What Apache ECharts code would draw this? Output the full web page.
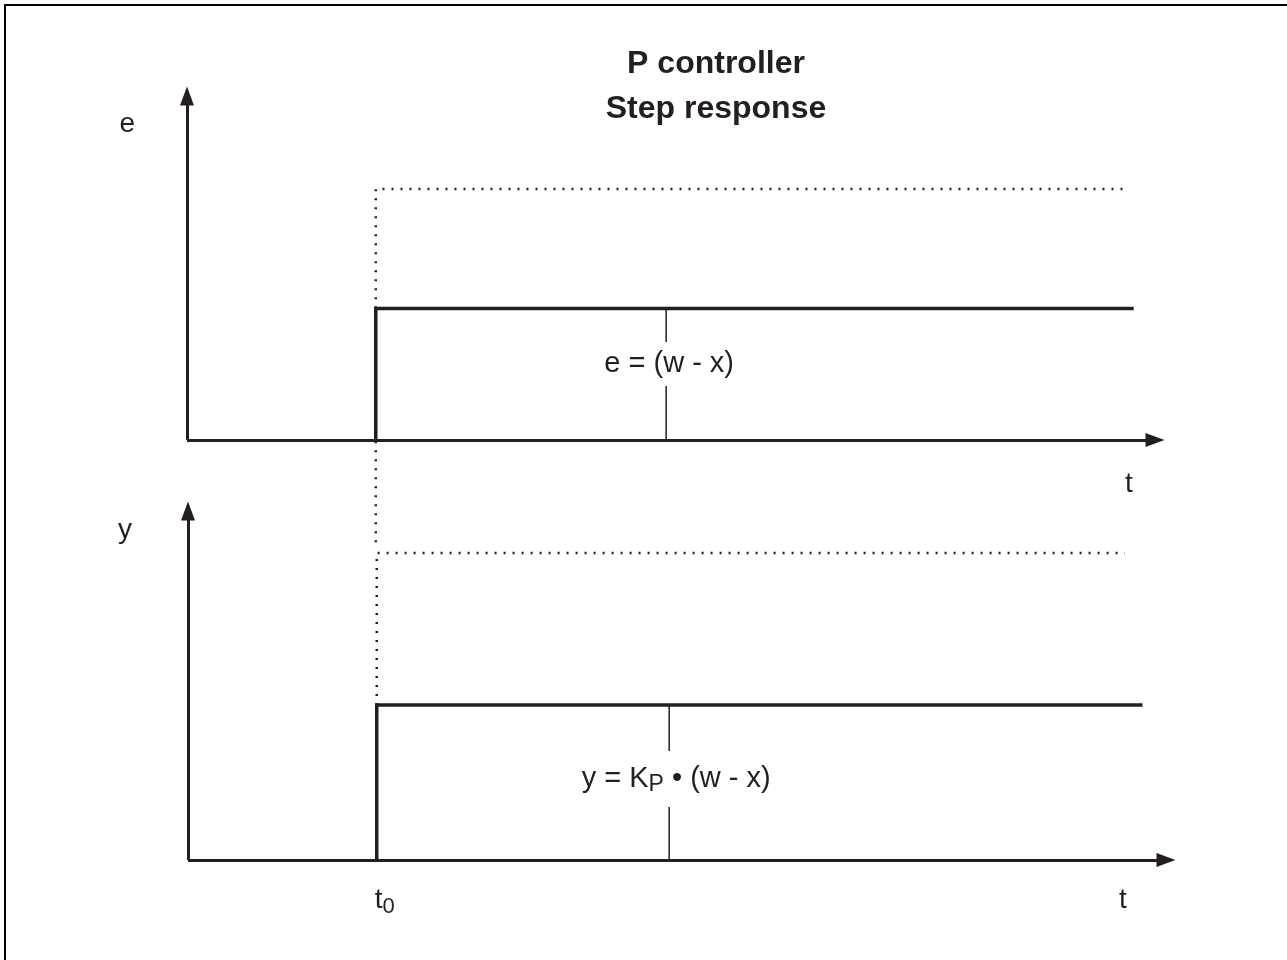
<!DOCTYPE html>
<html>
<head>
<meta charset="utf-8">
<title>P controller - Step response</title>
<script src="https://cdn.jsdelivr.net/npm/echarts@6.0.0/dist/echarts.min.js"></script>
<style>
  html, body { margin: 0; padding: 0; background: #fff; overflow: hidden; }
  #chart { position: absolute; left: 0; top: 0; width: 1287px; height: 960px; }
  #frame { position: absolute; left: 4px; top: 4px; width: 1283px; height: 956px;
           border-left: 2px solid #000; border-top: 2px solid #000; box-sizing: border-box; pointer-events: none; }
</style>
</head>
<body>
<div id="chart"></div>
<div id="frame"></div>
<script>
// upper panel: control error e over time t
const errStepT = [19.5, 19.5, 97.8];
const errStepE = [0, 3.82, 3.82];
const errRefT = [19.5, 19.5, 96.8];
const errRefE = [-2.97, 7.3, 7.3];
const errMarkT = [49.5, 49.5];
const errMarkE = [3.82, 0];

// lower panel: controller output y over time t
const outStepT = [19.3, 19.3, 97.6];
const outStepY = [0, 4.44, 4.44];
const outRefT = [19.3, 19.3, 95.8];
const outRefY = [4.44, 8.8, 8.8];
const outMarkT = [49.2, 49.2];
const outMarkY = [4.44, 0];

// where the time labels sit on the t axes
const t0 = 19.3;
const errTimeLabelT = [97.3];
const outTimeLabelT = [t0, 95.6];

const errText = 'e = (w - x)';
const outText = '{a|y = K}{s|P}{a| \u2022 (w - x)}';

const ink = '#231f20';
const font = '"Liberation Sans", Arial, Helvetica, sans-serif';

const zip = (xs, ys) => xs.map((x, i) => [x, ys[i]]);

function arrowLine() {
  return {
    show: true,
    symbol: ['none', 'triangle'],
    symbolSize: [14, 19],
    lineStyle: { color: ink, width: 3, cap: 'butt' }
  };
}

const timeRich = {
  t: { fontFamily: font, fontSize: 28, color: ink, lineHeight: 40 },
  t0: { fontFamily: font, fontSize: 28, color: ink, lineHeight: 40, padding: [0, 0, 0, 16] },
  s: { fontFamily: font, fontSize: 22, color: ink, lineHeight: 40, padding: [14, 0, 0, 0] }
};

function nameStyle(extra) {
  return Object.assign({ fontFamily: font, fontSize: 28, color: ink }, extra);
}

function lineSeries(grid, data, width, dash, z) {
  return {
    type: 'line',
    xAxisIndex: grid,
    yAxisIndex: grid,
    data: data,
    symbol: 'none',
    clip: false,
    silent: true,
    z: z,
    lineStyle: { color: ink, width: width, type: dash, cap: 'butt', join: 'miter' }
  };
}

const chart = echarts.init(document.getElementById('chart'), null, { renderer: 'canvas' });

chart.setOption({
  animation: false,
  backgroundColor: '#fff',
  title: {
    text: 'P controller\nStep response',
    left: 716,
    top: 42,
    textAlign: 'center',
    padding: 0,
    textStyle: { fontFamily: font, fontSize: 32, fontWeight: 'bold', color: ink, lineHeight: 45 }
  },
  grid: [
    { left: 187, top: 96, width: 968, height: 344, containLabel: false, outerBoundsMode: 'none' },
    { left: 188, top: 511, width: 978, height: 349, containLabel: false, outerBoundsMode: 'none' }
  ],
  xAxis: [
    {
      gridIndex: 0, type: 'value', min: 0, max: 100,
      axisLine: arrowLine(), axisTick: { show: false }, splitLine: { show: false },
      axisLabel: {
        show: true, customValues: errTimeLabelT, margin: 24,
        formatter: () => '{t|t}', rich: timeRich
      }
    },
    {
      gridIndex: 1, type: 'value', min: 0, max: 100,
      axisLine: arrowLine(), axisTick: { show: false }, splitLine: { show: false },
      axisLabel: {
        show: true, customValues: outTimeLabelT, margin: 20,
        formatter: (v) => (v === t0 ? '{t0|t}{s|0}' : '{t|t}'),
        rich: timeRich
      }
    }
  ],
  yAxis: [
    {
      gridIndex: 0, type: 'value', min: 0, max: 10,
      axisLine: arrowLine(), axisTick: { show: false }, axisLabel: { show: false }, splitLine: { show: false },
      name: 'e', nameLocation: 'end', nameGap: -28,
      nameTextStyle: nameStyle({ align: 'right', verticalAlign: 'middle', padding: [0, 52, 0, 0] })
    },
    {
      gridIndex: 1, type: 'value', min: 0, max: 10,
      axisLine: arrowLine(), axisTick: { show: false }, axisLabel: { show: false }, splitLine: { show: false },
      name: 'y', nameLocation: 'end', nameGap: -19,
      nameTextStyle: nameStyle({ align: 'right', verticalAlign: 'middle', padding: [0, 56, 0, 0] })
    }
  ],
  series: [
    lineSeries(0, zip(errRefT, errRefE), 2.5, [2, 7], 1),
    lineSeries(0, zip(errMarkT, errMarkE), 1.5, 'solid', 2),
    lineSeries(0, zip(errStepT, errStepE), 3.5, 'solid', 3),
    {
      type: 'scatter', xAxisIndex: 0, yAxisIndex: 0, z: 5, silent: true,
      symbolSize: 0,
      itemStyle: { opacity: 1 },
      data: [[errMarkT[0], 2.21]],
      label: {
        show: true, position: 'inside', offset: [3, 0],
        formatter: errText,
        fontFamily: font, fontSize: 29, color: ink, lineHeight: 30,
        backgroundColor: '#fff', padding: [7, 4]
      }
    },
    lineSeries(1, zip(outRefT, outRefY), 2.5, [2, 7], 1),
    lineSeries(1, zip(outMarkT, outMarkY), 1.5, 'solid', 2),
    lineSeries(1, zip(outStepT, outStepY), 3.5, 'solid', 3),
    {
      type: 'scatter', xAxisIndex: 1, yAxisIndex: 1, z: 5, silent: true,
      symbolSize: 0,
      itemStyle: { opacity: 1 },
      data: [[outMarkT[0], 2.32]],
      label: {
        show: true, position: 'inside', offset: [7, 0],
        formatter: outText,
        backgroundColor: '#fff', padding: [8, 4],
        rich: {
          a: { fontFamily: font, fontSize: 29, color: ink, lineHeight: 40 },
          s: { fontFamily: font, fontSize: 23, color: ink, lineHeight: 40, padding: [12, 0, 0, 0] }
        }
      }
    }
  ]
});
</script>
</body>
</html>
